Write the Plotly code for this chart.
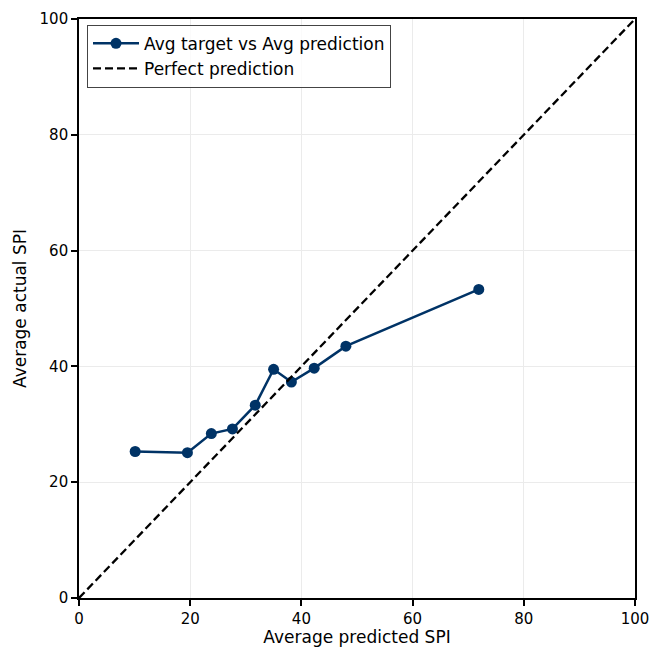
import plotly.graph_objects as go

avg_pred = [10.1, 19.5, 23.8, 27.6, 31.7, 35.0, 38.2, 42.3, 48.0, 71.9]
avg_actual = [25.3, 25.1, 28.4, 29.2, 33.3, 39.5, 37.3, 39.7, 43.5, 53.3]
diag = [0, 100]
tick_vals = [0, 20, 40, 60, 80, 100]

fig = go.Figure()
fig.add_trace(go.Scatter(
    x=avg_pred, y=avg_actual, mode="lines+markers",
    name="Avg target vs Avg prediction",
    line=dict(color="#003366", width=2.5),
    marker=dict(color="#003366", size=11),
))
fig.add_trace(go.Scatter(
    x=diag, y=diag, mode="lines", name="Perfect prediction",
    line=dict(color="black", width=2.3, dash="8px,4px"),
))

axis_common = dict(
    range=[0, 100], tickvals=tick_vals, showline=True, linecolor="black",
    linewidth=1.6, mirror=True, ticks="outside", ticklen=6, tickwidth=1.5,
    tickcolor="black", showgrid=True, gridcolor="#ebebeb", gridwidth=1,
    zeroline=False, tickfont=dict(size=15, color="black"), automargin=False,
    ticklabeloverflow="allow",
)

fig.update_layout(
    width=649, height=647,
    margin=dict(l=79, r=14, t=19, b=49, autoexpand=False),
    paper_bgcolor="white", plot_bgcolor="white",
    font=dict(family="DejaVu Sans", size=15, color="black"),
    xaxis=dict(title=dict(text="Average predicted SPI", font=dict(size=17), standoff=6), **axis_common),
    yaxis=dict(title=dict(text="Average actual SPI", font=dict(size=17), standoff=9), **axis_common),
    legend=dict(x=0.0144, y=0.99, xanchor="left", yanchor="top",
                bordercolor="#444", borderwidth=1, bgcolor="rgba(255,255,255,0.8)",
                font=dict(size=17), tracegroupgap=0, itemwidth=46),
    showlegend=True,
)

fig.write_html(
    "out.html",
    config={"displayModeBar": False},
    post_script="document.body.style.margin='0';document.body.style.overflow='hidden';",
)
